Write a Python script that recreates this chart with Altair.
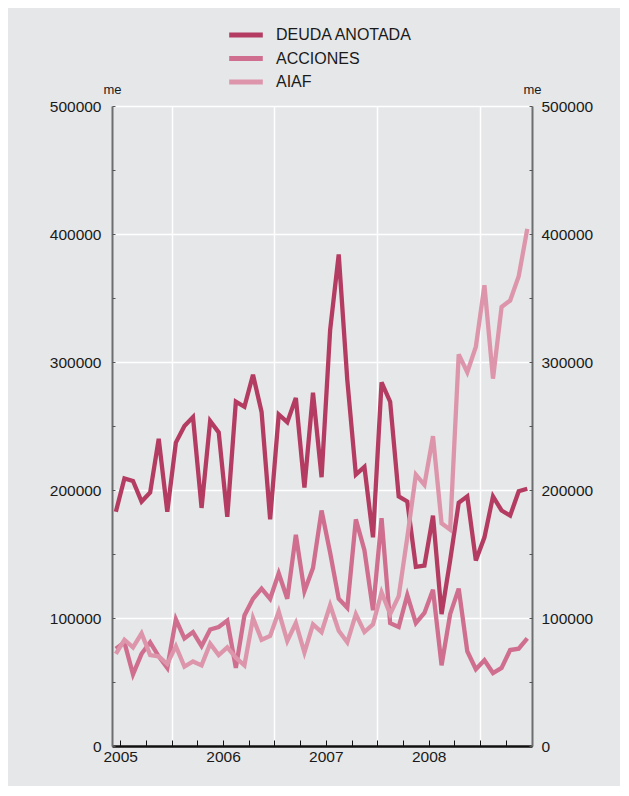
import altair as alt
import pandas as pd

series_names = ["DEUDA ANOTADA", "ACCIONES", "AIAF"]
series_colors = ["#b43c62", "#cf6e8e", "#dd95ab"]

# monthly observations, index 0 = first month of 2005
deuda = [183000, 209000, 207000, 191000, 198000, 240000, 183000, 237000, 250000, 257000,
         186000, 254000, 245000, 179000, 269000, 265000, 290000, 261000, 177000, 259000,
         253000, 272000, 202000, 276000, 210000, 325000, 384000, 286000, 212000, 218000,
         163000, 284000, 269000, 195000, 191000, 140000, 141000, 180000, 103000, 145000,
         190000, 195000, 145000, 163000, 195000, 184000, 180000, 199000, 201000]
acciones = [76000, 81000, 56000, 72000, 81000, 70000, 61000, 99000, 84000, 89000,
            78000, 91000, 93000, 98000, 61000, 102000, 115000, 123000, 115000, 135000,
            115000, 165000, 121000, 139000, 184000, 151000, 115000, 108000, 177000, 153000,
            106000, 178000, 96000, 93000, 118000, 96000, 104000, 122000, 63000, 103000,
            123000, 74000, 60000, 67000, 57000, 61000, 75000, 76000, 84000]
aiaf = [72000, 83000, 77000, 88000, 71000, 70000, 64000, 78000, 62000, 66000,
        63000, 80000, 71000, 77000, 69000, 63000, 100000, 83000, 86000, 105000,
        82000, 96000, 73000, 95000, 89000, 110000, 90000, 81000, 103000, 89000,
        95000, 120000, 103000, 117000, 163000, 212000, 204000, 242000, 174000, 169000,
        306000, 292000, 312000, 360000, 287000, 343000, 348000, 367000, 404000]

year_label_positions = [0.5, 12.5, 24.5, 36.5]
year_grid_positions = [6.5, 18.5, 30.5, 42.5]
quarter_tick_positions = [0.5 + 3 * k for k in range(17)]
y_label_values = [0, 100000, 200000, 300000, 400000, 500000]
y_grid_values = [100000, 200000, 300000, 400000, 500000]
y_tick_values = [50000 * k for k in range(11)]

rows = []
for name, vals in zip(series_names, [deuda, acciones, aiaf]):
    for i, v in enumerate(vals):
        rows.append({"i": i, "value": v, "series": name})
df = pd.DataFrame(rows)

FONT = "Liberation Sans"
W, H = 420, 640

def xs():
    return alt.Scale(domain=[-0.45, 48.55], nice=False, zero=False)

def ys():
    return alt.Scale(domain=[0, 500000], nice=False, zero=True)

base = alt.Chart(df)

# grid layer (invisible marks, carries white gridlines)
grid_layer = base.mark_line(strokeOpacity=0).encode(
    x=alt.X("i:Q", scale=xs(), axis=alt.Axis(values=year_grid_positions, grid=True, gridColor="white",
                                              gridWidth=1.5, domain=False, ticks=False, labels=False,
                                              title=None, orient="bottom")),
    y=alt.Y("value:Q", scale=ys(), axis=alt.Axis(values=y_grid_values, grid=True, gridColor="white",
                                                  gridWidth=1.5, domain=False, ticks=False, labels=False,
                                                  title=None, orient="left")),
    detail="series:N",
)

lines = base.mark_line(strokeWidth=4.3, strokeJoin="miter").encode(
    x=alt.X("i:Q", scale=xs(), axis=alt.Axis(values=year_label_positions,
                                              labelExpr="toString(2005 + floor(datum.value / 12))",
                                              grid=False, ticks=False, tickSize=0, domain=True,
                                              domainColor="#111111", domainWidth=2.5,
                                              labelFont=FONT, labelFontSize=15.5, labelColor="#1a1a1a",
                                              labelPadding=3, title=None, orient="bottom")),
    y=alt.Y("value:Q", scale=ys(), axis=alt.Axis(values=y_label_values, format="d", grid=False,
                                                  ticks=False, tickSize=0, domain=True,
                                                  domainColor="#6d6e70", domainWidth=2,
                                                  labelFont=FONT, labelFontSize=15.5, labelColor="#1a1a1a",
                                                  labelPadding=11, title="me", titleAngle=0,
                                                  titleX=0, titleY=-17, titleAlign="center",
                                                  titleBaseline="middle", titleFont=FONT,
                                                  titleFontSize=13, titleFontWeight="normal",
                                                  titleColor="#1a1a1a", orient="left")),
    color=alt.Color("series:N",
                    scale=alt.Scale(domain=series_names, range=series_colors),
                    sort=series_names,
                    legend=alt.Legend(title=None, orient="none", legendX=121, legendY=-84,
                                      symbolType="M-1.6,0H1.6", symbolStrokeWidth=5, symbolSize=441,
                                      labelFont=FONT, labelFontSize=16, labelColor="#1a1a1a",
                                      labelOffset=17, rowPadding=0.5, padding=0)),
)

# right axis with labels, plus inward quarter ticks on the bottom edge
right_axis = base.mark_line(strokeOpacity=0).encode(
    x=alt.X("i:Q", scale=xs(), axis=alt.Axis(values=quarter_tick_positions, orient="top", offset=-H,
                                              ticks=True, tickSize=6, tickColor="#111111", tickWidth=1,
                                              domain=False, labels=False, grid=False, title=None)),
    y=alt.Y("value:Q", scale=ys(), axis=alt.Axis(values=y_label_values, format="d", grid=False,
                                                  ticks=False, tickSize=0, domain=True,
                                                  domainColor="#6d6e70", domainWidth=2,
                                                  labelFont=FONT, labelFontSize=15.5, labelColor="#1a1a1a",
                                                  labelPadding=9, title="me", titleAngle=0,
                                                  titleX=0, titleY=-17, titleAlign="center",
                                                  titleBaseline="middle", titleFont=FONT,
                                                  titleFontSize=13, titleFontWeight="normal",
                                                  titleColor="#1a1a1a", orient="right")),
    detail="series:N",
)

# inward ticks on left edge
left_ticks = base.mark_line(strokeOpacity=0).encode(
    x=alt.X("i:Q", scale=xs(), axis=None),
    y=alt.Y("value:Q", scale=ys(), axis=alt.Axis(values=y_tick_values, orient="right", offset=-W,
                                                  ticks=True, tickSize=3, tickColor="#555555", tickWidth=1,
                                                  domain=False, labels=False, grid=False, title=None)),
    detail="series:N",
)

# inward ticks on right edge
right_ticks = base.mark_line(strokeOpacity=0).encode(
    x=alt.X("i:Q", scale=xs(), axis=None),
    y=alt.Y("value:Q", scale=ys(), axis=alt.Axis(values=y_tick_values, orient="left", offset=-W,
                                                  ticks=True, tickSize=3, tickColor="#555555", tickWidth=1,
                                                  domain=False, labels=False, grid=False, title=None)),
    detail="series:N",
)

chart = alt.layer(grid_layer, lines, right_axis, left_ticks, right_ticks).resolve_scale(
    x="independent", y="independent", color="independent"
).resolve_axis(
    x="independent", y="independent"
).properties(
    width=W, height=H,
    autosize=alt.AutoSizeParams(type="none"),
    padding={"left": 104, "top": 98, "right": 88, "bottom": 40},
    background="#e6e7e8",
).configure_view(stroke=None)

chart.save("out.html", embed_options={"renderer": "svg", "actions": False})
